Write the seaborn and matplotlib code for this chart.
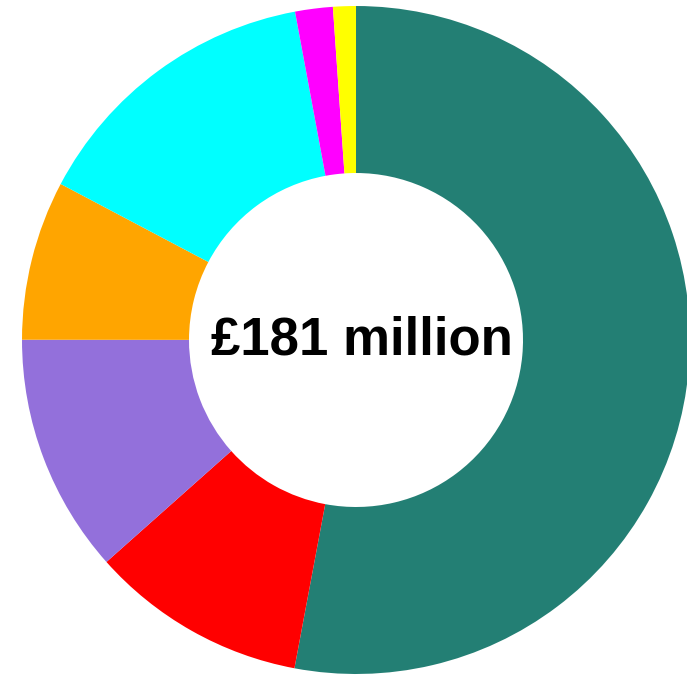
import matplotlib
matplotlib.use("Agg")
import matplotlib.pyplot as plt
import seaborn as sns

categories = ["Teal", "Red", "Purple", "Orange", "Cyan", "Magenta", "Yellow"]
values = [96, 19, 21, 14, 26, 3.3, 2]
colors = ["#237f74", "#ff0000", "#9370db", "#ffa500", "#00ffff", "#ff00ff", "#ffff00"]
center_label = "£181 million"

sns.set_theme(style="white")
plt.rcParams['font.family'] = ['Liberation Sans', 'DejaVu Sans']

fig = plt.figure(figsize=(6.87, 6.78), dpi=100)
ax = fig.add_axes([0, 0, 1, 1])
ax.pie(values, colors=colors, startangle=90, counterclock=False, radius=1.0,
       wedgeprops=dict(width=0.5, linewidth=0, antialiased=True))
ax.set_aspect('auto')
ax.set_xlim(-1.0659, 0.991)
ax.set_ylim(-1.012, 1.018)
ax.axis('off')
ax.text(0.017, -0.002, center_label, ha='center', va='center', fontsize=38,
        fontweight='bold', color='black')
fig.savefig("out.png", dpi=100)
